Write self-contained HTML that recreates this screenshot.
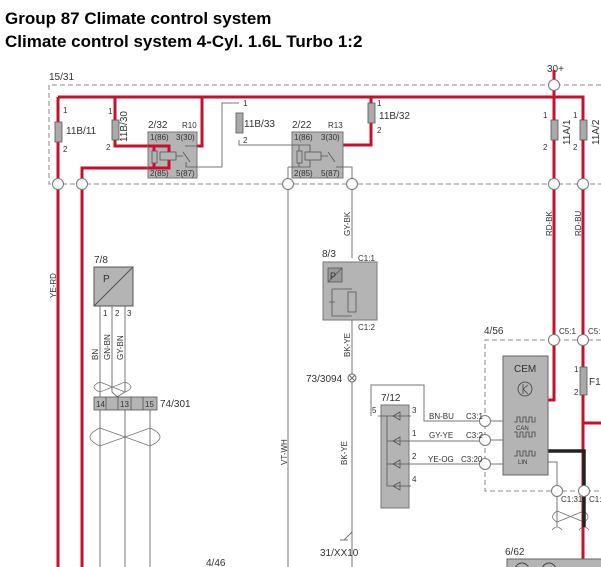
<!DOCTYPE html>
<html><head><meta charset="utf-8"><style>
html,body{margin:0;padding:0;background:#fff;}
svg{display:block;}
text{font-family:"Liberation Sans",sans-serif;fill:#333;}
</style></head><body>
<svg width="601" height="567" viewBox="0 0 601 567" xmlns="http://www.w3.org/2000/svg">
<text x="5" y="24" style="font-size:17px;font-weight:bold;fill:#000">Group 87 Climate control system</text>
<text x="5" y="47" style="font-size:17px;font-weight:bold;fill:#000">Climate control system 4-Cyl. 1.6L Turbo 1:2</text>

<g fill="none" stroke="#888" stroke-width="1" stroke-dasharray="5,3">
<path d="M601 85 H49 V184 H601"/>
<path d="M601 340 H485 V491 H601"/>
</g>
<text x="49" y="80" font-size="10">15/31</text>
<text x="547" y="72" font-size="10">30+</text>

<g fill="none" stroke="#777" stroke-width="1">
<path d="M197 167 H222 V103 H239"/>
<path d="M239 140 V145 H292"/>
<path d="M288 167 H292 M288 167 V567"/>
<path d="M343 167 H352 V258"/>
<path d="M352 262 V567"/>
<path d="M352 532 L344 540 M340 540 H348"/>
<path d="M100 306 V567 M112 306 V392 L125 404 M125 306 V392 L112 400 L100 404 M112 400 L150 404"/>
<path d="M125 404 V567 M150 404 V567 M100 404 V567"/>
<path d="M371 416 V385 H424 V421 H485 M411 441 H485 M411 464 H485"/>
<path d="M491 421 H503 M491 440 H503 M491 464 H503"/>
<path d="M548 462 H557 V527"/>
</g>
<g fill="none" stroke="#777" stroke-width="0.8">
<path d="M100 382 Q88 387 100 392 L125 382 Q137 387 125 392 L100 382"/>
<path d="M100 428 Q80 437 100 446 L150 428 Q170 437 150 446 L100 428"/>
<path d="M557 511 Q548 517 557 522 L584 511 Q592 517 584 522 Z"/>
<path d="M552 530 Q557 524 562 530 M579 530 Q584 524 589 530"/>
</g>

<g fill="none" stroke="#c8102e" stroke-width="3">
<path d="M58 97 H583 V567"/>
<path d="M58 97 V567"/>
<path d="M115 97 V146 H148"/>
<path d="M202 97 V146 H197"/>
<path d="M82 567 V168 H148"/>
<path d="M371 97 V145 H343"/>
<path d="M554 70 V400 H548"/>
<path d="M583 340 V423 H601"/>
</g>
<path d="M548 451 H584 V527" fill="none" stroke="#222" stroke-width="3.5"/>

<g fill="#aaa" stroke="#555" stroke-width="0.8">
<rect x="55" y="122" width="7" height="20"/>
<rect x="112" y="120" width="7" height="20"/>
<rect x="236" y="113" width="7" height="20"/>
<rect x="368" y="103" width="7" height="20"/>
<rect x="551" y="120" width="7" height="20"/>
<rect x="580" y="120" width="7" height="20"/>
<rect x="580" y="367" width="7" height="28"/>
</g>
<g font-size="10">
<text x="66" y="134">11B/11</text>
<text x="244" y="127">11B/33</text>
<text x="379" y="119">11B/32</text>
<text x="63" y="113" font-size="8">1</text><text x="63" y="152" font-size="8">2</text>
<text x="108" y="114" font-size="8">1</text><text x="106" y="150" font-size="8">2</text>
<text x="243" y="106" font-size="8">1</text><text x="243" y="143" font-size="8">2</text>
<text x="377" y="106" font-size="8">1</text><text x="377" y="133" font-size="8">2</text>
<text x="543" y="118" font-size="8">1</text><text x="543" y="150" font-size="8">2</text>
<text x="573" y="118" font-size="8">1</text><text x="573" y="150" font-size="8">2</text>
<text x="574" y="372" font-size="8">1</text><text x="574" y="395" font-size="8">2</text>
<text x="589" y="385">F1</text>
<text transform="translate(127,142) rotate(-90)">11B/30</text>
<text transform="translate(570,145) rotate(-90)">11A/1</text>
<text transform="translate(599,145) rotate(-90)">11A/2</text>
</g>

<g fill="#b4b4b4" stroke="#777" stroke-width="1">
<rect x="148" y="132" width="49" height="46"/>
<rect x="292" y="132" width="51" height="46"/>
</g>
<path d="M148 146 H169 V168 H148 M154 146 V168" fill="none" stroke="#c8102e" stroke-width="3"/>
<g fill="none" stroke="#555" stroke-width="0.8">
<rect x="152" y="151" width="5" height="12" fill="#b4b4b4"/>
<rect x="160" y="152" width="16" height="8" fill="#b4b4b4"/><path d="M183 152 L190 162 M176 156 H183 M185 146 H197 M186 162 V167 H197"/>
<rect x="297" y="151" width="5" height="12"/>
<rect x="305" y="152" width="16" height="8"/><path d="M328 152 L335 162 M321 156 H328 M292 145 H310 V152 M292 167 H310 V160 M299 145 V151 M299 163 V167 M336 167 H343"/>
</g>
<g font-size="8">
<text x="150" y="140">1(86)</text><text x="176" y="140">3(30)</text>
<text x="150" y="176">2(85)</text><text x="176" y="176">5(87)</text>
<text x="294" y="140">1(86)</text><text x="321" y="140">3(30)</text>
<text x="294" y="176">2(85)</text><text x="321" y="176">5(87)</text>
</g>
<text x="148" y="128" font-size="10">2/32</text><text x="182" y="128" font-size="8">R10</text>
<text x="292" y="128" font-size="10">2/22</text><text x="328" y="128" font-size="8">R13</text>

<g fill="#fff" stroke="#777" stroke-width="1">
<circle cx="58" cy="184" r="5.5"/><circle cx="82" cy="184" r="5.5"/>
<circle cx="288" cy="184" r="5.5"/><circle cx="352" cy="184" r="5.5"/>
<circle cx="554" cy="184" r="5.5"/><circle cx="583" cy="184" r="5.5"/>
<circle cx="554" cy="85" r="5.5"/>
<circle cx="554" cy="340" r="5.5"/><circle cx="583" cy="340" r="5.5"/>
<circle cx="485" cy="421" r="5.5"/><circle cx="485" cy="440" r="5.5"/><circle cx="485" cy="464" r="5.5"/>
<circle cx="557" cy="491" r="5.5"/><circle cx="584" cy="491" r="5.5"/>
</g>

<g font-size="8">
<text transform="translate(56,298) rotate(-90)">YE-RD</text>
<text transform="translate(552,236) rotate(-90)">RD-BK</text>
<text transform="translate(581,236) rotate(-90)">RD-BU</text>
<text transform="translate(350,236) rotate(-90)">GY-BK</text>
<text transform="translate(350,357) rotate(-90)">BK-YE</text>
<text transform="translate(347,465) rotate(-90)">BK-YE</text>
<text transform="translate(287,465) rotate(-90)">VT-WH</text>
<text transform="translate(98,360) rotate(-90)">BN</text>
<text transform="translate(110,360) rotate(-90)">GN-BN</text>
<text transform="translate(123,360) rotate(-90)">GY-BN</text>
<text x="429" y="419">BN-BU</text><text x="429" y="438">GY-YE</text><text x="428" y="462">YE-OG</text>
<text x="466" y="419">C3:1</text><text x="466" y="438">C3:2</text><text x="461" y="462">C3:20</text>
<text x="358" y="261">C1:1</text><text x="358" y="330">C1:2</text>
<text x="559" y="334">C5:1</text><text x="588" y="334">C5:</text>
<text x="561" y="502">C1:31</text><text x="589" y="502">C1:</text>
</g>

<rect x="323" y="262" width="54" height="58" fill="#b4b4b4" stroke="#777"/>
<rect x="328" y="268" width="14" height="14" fill="#999" stroke="#555" stroke-width="0.8"/>
<path d="M328 282 L342 268" stroke="#555" stroke-width="0.8"/>
<text x="330" y="279" font-size="9">P</text>
<path d="M332 289 H352 M332 289 V316 H352 M329 302 H335" fill="none" stroke="#555" stroke-width="0.8"/>
<rect x="348" y="292" width="8" height="20" fill="#b4b4b4" stroke="#555" stroke-width="0.8"/>
<text x="322" y="257" font-size="10">8/3</text>
<circle cx="352" cy="378" r="4" fill="#fff" stroke="#666"/><path d="M349 375 L355 381 M355 375 L349 381" stroke="#666"/>
<text x="306" y="382" font-size="10">73/3094</text>
<text x="320" y="556" font-size="10">31/XX10</text>

<rect x="94" y="267" width="39" height="39" fill="#b4b4b4" stroke="#555"/>
<path d="M94 306 L133 267" stroke="#555"/>
<text x="103" y="282" font-size="10">P</text>
<text x="94" y="263" font-size="10">7/8</text>
<g font-size="8"><text x="103" y="316">1</text><text x="115" y="316">2</text><text x="127" y="316">3</text></g>

<rect x="94" y="397" width="63" height="13" fill="#b4b4b4" stroke="#555" stroke-width="0.8"/>
<path d="M106 397 V410 M118 397 V410 M131 397 V410 M143 397 V410" stroke="#555" stroke-width="0.8"/>
<g font-size="8"><text x="96" y="407">14</text><text x="120" y="407">13</text><text x="145" y="407">15</text></g>
<text x="160" y="407" font-size="10">74/301</text>
<text x="206" y="566" font-size="10">4/46</text>

<rect x="381" y="405" width="28" height="103" fill="#b4b4b4" stroke="#777"/>
<path d="M387 416 V486 H411 M378 416 H411 M387 441 H411 M387 464 H411" fill="none" stroke="#555" stroke-width="0.8"/>
<g fill="none" stroke="#555" stroke-width="0.8">
<path d="M393 416 L400 412 V420 Z M393 441 L400 437 V445 Z M393 464 L400 460 V468 Z M393 486 L400 482 V490 Z"/>
</g>
<text x="381" y="401" font-size="10">7/12</text>
<g font-size="8"><text x="372" y="413">5</text><text x="412" y="413">3</text><text x="412" y="436">1</text><text x="412" y="459">2</text><text x="412" y="482">4</text></g>

<text x="484" y="334" font-size="10">4/56</text>
<rect x="503" y="356" width="45" height="119" fill="#b4b4b4" stroke="#666"/>
<text x="514" y="372" font-size="10">CEM</text>
<circle cx="525" cy="389" r="7" fill="none" stroke="#444" stroke-width="0.8"/>
<path d="M523 384 V394 M523 389 L528 385 M523 389 L528 394" stroke="#444" stroke-width="0.8" fill="none"/>
<g fill="none" stroke="#444" stroke-width="0.8">
<path d="M514 422 H517 V417 H520 V422 H523 V417 H526 V422 H529 V417 H532 V422 H535 V417"/>
<path d="M514 432 H517 V437 H520 V432 H523 V437 H526 V432 H529 V437 H532 V432 H535 V437"/>
<path d="M514 456 H517 V451 H520 V456 H523 V451 H526 V456 H529 V451 H532 V456 H535 V451"/>
</g>
<text x="516" y="430" font-size="6">CAN</text><text x="518" y="464" font-size="6">LIN</text>

<text x="505" y="555" font-size="10">6/62</text>
<rect x="507" y="559" width="100" height="12" fill="#b4b4b4" stroke="#666"/>
<circle cx="522" cy="570" r="7" fill="none" stroke="#444"/><circle cx="549" cy="570" r="7" fill="none" stroke="#444"/>
</svg>
</body></html>
